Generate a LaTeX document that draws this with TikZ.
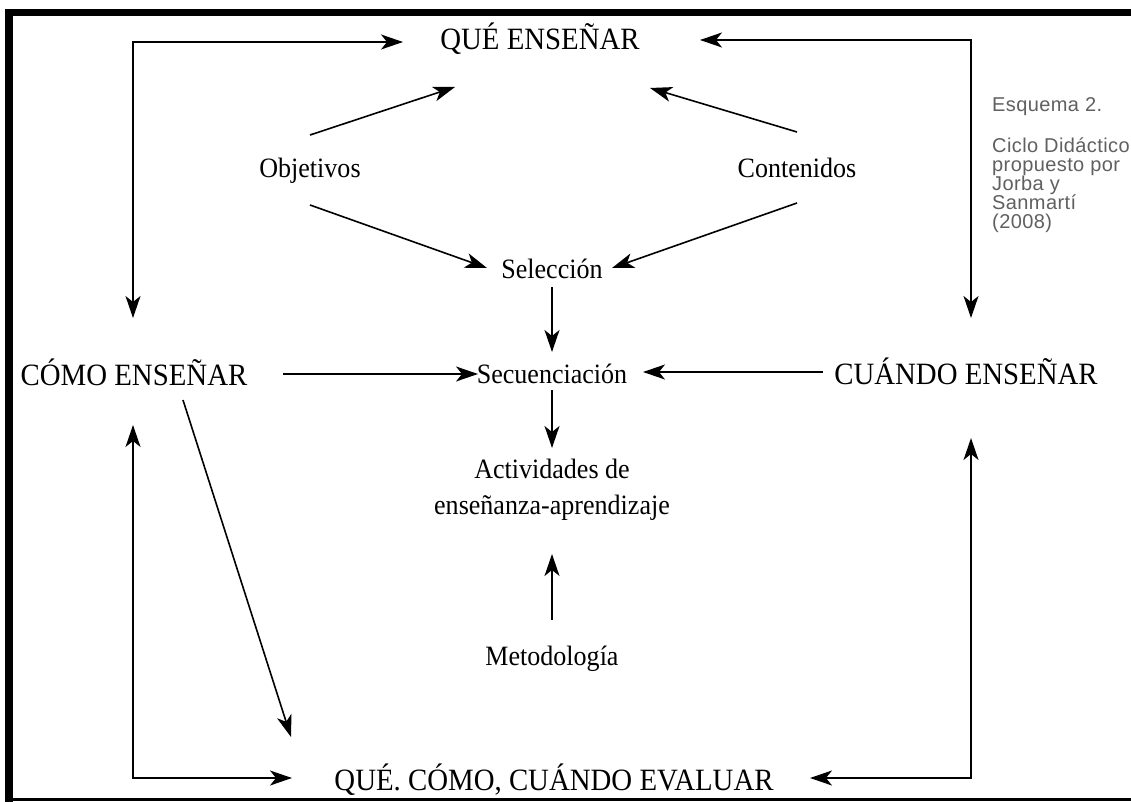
\documentclass[tikz,border=0pt]{standalone}
\usepackage{fontspec}
\setmainfont{Liberation Serif}
\newfontfamily\condserif{Liberation Serif}[FakeStretch=0.93]
\newfontfamily\notefont{Liberation Sans}[LetterSpace=2]
\usetikzlibrary{arrows.meta,calc}
\definecolor{notegray}{HTML}{606060}

\begin{document}
\begin{tikzpicture}[x=1pt,y=-1pt,
  big/.style={font=\condserif\fontsize{31}{36}\selectfont, inner sep=0pt, anchor=base},
  lbl/.style={font=\condserif\fontsize{28}{36}\selectfont, inner sep=0pt, anchor=base, align=center},
  note/.style={font=\notefont\fontsize{20}{19}\selectfont, text=notegray, inner sep=0pt, align=left},
  arr/.style={-{Stealth[length=22pt,width=15pt,inset=6pt]}, line width=1.6pt},
  biarr/.style={{Stealth[length=22pt,width=15pt,inset=6pt]}-{Stealth[length=22pt,width=15pt,inset=6pt]}, line width=1.6pt}
]
\useasboundingbox (0,0) rectangle (1131,802);
\fill[white] (0,0) rectangle (1131,802);

% frame, open on the right
\fill (5,9) rectangle (1131,16);
\fill (5,9) rectangle (13,802);
\fill (5,798) rectangle (1131,801);

% main headings
\node[big] (que)    at (540,50)  {QUÉ ENSEÑAR};
\node[big] (como)   at (134,385) {CÓMO ENSEÑAR};
\node[big] (cuando) at (966,384) {CUÁNDO ENSEÑAR};
\node[big] (eval)   at (554,790) {QUÉ. CÓMO, CUÁNDO EVALUAR};

% inner labels
\node[lbl] (obj) at (310,178) {Objetivos};
\node[lbl] (con) at (797,178) {Contenidos};
\node[lbl] (sel) at (552,278) {Selección};
\node[lbl] (sec) at (552,383) {Secuenciación};
\node[lbl, anchor=center] (act) at (552,490) {Actividades de\\enseñanza-aprendizaje};
\node[lbl] (met) at (552,665) {Metodología};

% side note, one node per line
\node[note, anchor=base west] (n1) at (992,112) {Esquema 2.};
\node[note, anchor=base west] (n2) at (992,153) {Ciclo Didáctico};
\node[note, anchor=base west] (n3) at (992,172) {propuesto por};
\node[note, anchor=base west] (n4) at (992,191) {Jorba y};
\node[note, anchor=base west] (n5) at (992,210) {Sanmartí};
\node[note, anchor=base west] (n6) at (992,229) {(2008)};

% outer cycle
\draw[biarr] ($(que.base)+(-137,-8)$) -| ($(como.base)+(-1,-67)$);
\draw[biarr] ($(que.base)+(160,-10)$) -| ($(cuando.base)+(5,-66)$);
\draw[biarr] ($(como.base)+(-1,40)$) |- ($(eval.base)+(-262,-12)$);
\draw[biarr] ($(cuando.base)+(5,54)$) |- ($(eval.base)+(256,-12)$);

% inner connectors
\draw[arr] ($(obj.base)+(0,-43)$) -- ($(que.base)+(-85,37)$);
\draw[arr] ($(con.base)+(0,-46)$) -- ($(que.base)+(110,38)$);
\draw[arr] ($(obj.base)+(0,27)$) -- ($(sel.base)+(-65,-10)$);
\draw[arr] ($(con.base)+(0,25)$) -- ($(sel.base)+(60,-10)$);
\draw[arr] ($(sel.base)+(0,9)$) -- ($(sec.base)+(0,-31)$);
\draw[arr] ($(como.base)+(149,-11)$) -- ($(sec.base)+(-74,-9)$);
\draw[arr] ($(cuando.base)+(-143,-12)$) -- ($(sec.base)+(91,-11)$);
\draw[arr] ($(sec.base)+(0,7)$) -- ($(act.center)+(0,-42)$);
\draw[arr] ($(met.base)+(0,-45)$) -- ($(act.center)+(0,64)$);
\draw[arr] ($(como.base)+(49,15)$) -- ($(eval.base)+(-263,-53)$);
\end{tikzpicture}
\end{document}
